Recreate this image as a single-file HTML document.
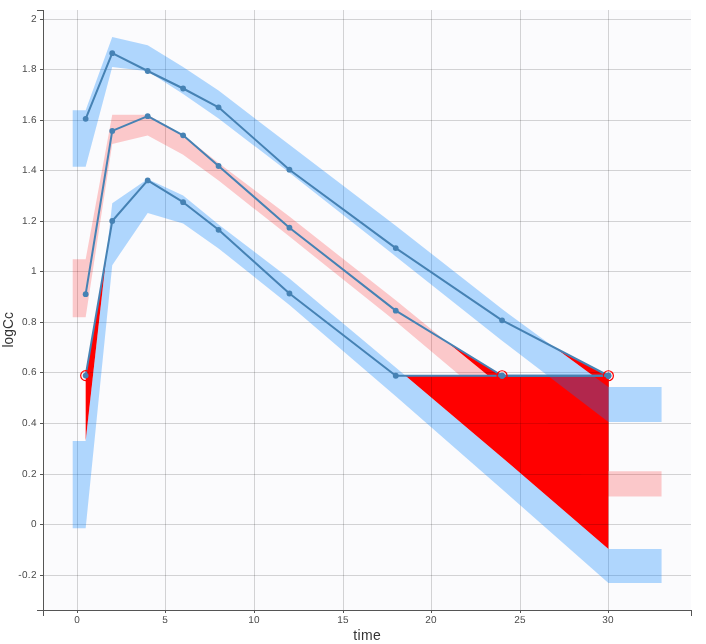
<!DOCTYPE html>
<html><head><meta charset="utf-8"><title>VPC</title>
<style>
html,body{margin:0;padding:0;background:#fff;}
svg{display:block;font-family:"Liberation Sans",Arial,sans-serif;}
</style></head>
<body>
<svg width="706" height="644" viewBox="0 0 706 644">
<rect x="0" y="0" width="706" height="644" fill="#ffffff"/>
<rect x="44" y="10" width="647" height="600" fill="#fbfbfd"/>
<g fill="#ff0000" stroke="none">
<polygon points="554.89,347.84 608.4,375.75 608.4,387.1"/>
<polygon points="446.7,341.84 502.08,375.75 608.4,375.75 608.4,471.2 502.08,387"/>
<polygon points="85.66,375.6 106.58,253.93 85.66,441"/>
<polygon points="405.51,375.75 502.08,375.75 608.4,375.75 608.4,548.9 502.08,457.5"/>
</g>
<g stroke="rgba(0,0,0,0.16)" stroke-width="1" shape-rendering="crispEdges">
<line x1="44" x2="691" y1="575.5" y2="575.5"/>
<line x1="44" x2="691" y1="524.5" y2="524.5"/>
<line x1="44" x2="691" y1="474.5" y2="474.5"/>
<line x1="44" x2="691" y1="423.5" y2="423.5"/>
<line x1="44" x2="691" y1="372.5" y2="372.5"/>
<line x1="44" x2="691" y1="322.5" y2="322.5"/>
<line x1="44" x2="691" y1="271.5" y2="271.5"/>
<line x1="44" x2="691" y1="221.5" y2="221.5"/>
<line x1="44" x2="691" y1="170.5" y2="170.5"/>
<line x1="44" x2="691" y1="120.5" y2="120.5"/>
<line x1="44" x2="691" y1="69.5" y2="69.5"/>
<line x1="44" x2="691" y1="19.5" y2="19.5"/>
<line x1="77.5" x2="77.5" y1="10" y2="610"/>
<line x1="165.5" x2="165.5" y1="10" y2="610"/>
<line x1="254.5" x2="254.5" y1="10" y2="610"/>
<line x1="343.5" x2="343.5" y1="10" y2="610"/>
<line x1="431.5" x2="431.5" y1="10" y2="610"/>
<line x1="520.5" x2="520.5" y1="10" y2="610"/>
<line x1="608.5" x2="608.5" y1="10" y2="610"/>
</g>
<g stroke="none">
<polygon fill="rgba(0,128,255,0.3)" points="72.7,110.2 85.66,110.2 112.24,36.9 147.68,45.2 183.12,67 218.56,90.5 289.44,144.8 395.76,225.7 502.08,309.1 608.4,387.1 661.56,387.1 661.56,421.9 608.4,421.9 502.08,340.7 395.76,256.4 289.44,172.8 218.56,118.4 183.12,94 147.68,71.2 112.24,67 85.66,166.8 72.7,166.8"/>
<polygon fill="rgba(255,0,0,0.2)" points="72.7,259.2 85.66,259.2 112.24,114.8 147.68,114.7 183.12,135 218.56,162.9 289.44,216.6 395.76,300.3 502.08,387 608.4,471.2 661.56,471.2 661.56,496.6 608.4,496.6 502.08,411 395.76,321.6 289.44,236.6 218.56,180.5 183.12,154.8 147.68,135.4 112.24,144 85.66,317.3 72.7,317.3"/>
<polygon fill="rgba(0,128,255,0.3)" points="72.7,441 85.66,441 112.24,203.3 147.68,179 183.12,195.5 218.56,224.5 289.44,278.5 395.76,367.5 502.08,457.5 608.4,548.9 661.56,548.9 661.56,582.9 608.4,582.9 502.08,489.3 395.76,396.3 289.44,305 218.56,248.4 183.12,223.6 147.68,212.9 112.24,265.2 85.66,528.2 72.7,528.2"/>
</g>
<g fill="none" stroke="#4682b4" stroke-width="2" stroke-linejoin="round">
<polyline points="85.66,118.8 112.24,53.2 147.68,71 183.12,88.5 218.56,107.3 289.44,169.7 395.76,248.1 502.08,320.3 608.4,375.75"/>
<polyline points="85.66,294.2 112.24,130.9 147.68,116.2 183.12,135.3 218.56,166 289.44,227.7 395.76,310.65 502.08,375.75 608.4,375.75"/>
<polyline points="85.66,375.6 112.24,221 147.68,180.4 183.12,202.2 218.56,229.8 289.44,293.5 395.76,375.75 502.08,375.75 608.4,375.75"/>
</g>
<g fill="#4682b4" stroke="none">
<circle cx="85.66" cy="118.8" r="2.9"/>
<circle cx="112.24" cy="53.2" r="2.9"/>
<circle cx="147.68" cy="71" r="2.9"/>
<circle cx="183.12" cy="88.5" r="2.9"/>
<circle cx="218.56" cy="107.3" r="2.9"/>
<circle cx="289.44" cy="169.7" r="2.9"/>
<circle cx="395.76" cy="248.1" r="2.9"/>
<circle cx="502.08" cy="320.3" r="2.9"/>
<circle cx="608.4" cy="375.75" r="2.9"/>
<circle cx="85.66" cy="294.2" r="2.9"/>
<circle cx="112.24" cy="130.9" r="2.9"/>
<circle cx="147.68" cy="116.2" r="2.9"/>
<circle cx="183.12" cy="135.3" r="2.9"/>
<circle cx="218.56" cy="166" r="2.9"/>
<circle cx="289.44" cy="227.7" r="2.9"/>
<circle cx="395.76" cy="310.65" r="2.9"/>
<circle cx="502.08" cy="375.75" r="2.9"/>
<circle cx="608.4" cy="375.75" r="2.9"/>
<circle cx="85.66" cy="375.6" r="2.9"/>
<circle cx="112.24" cy="221" r="2.9"/>
<circle cx="147.68" cy="180.4" r="2.9"/>
<circle cx="183.12" cy="202.2" r="2.9"/>
<circle cx="218.56" cy="229.8" r="2.9"/>
<circle cx="289.44" cy="293.5" r="2.9"/>
<circle cx="395.76" cy="375.75" r="2.9"/>
<circle cx="502.08" cy="375.75" r="2.9"/>
<circle cx="608.4" cy="375.75" r="2.9"/>
</g>
<g fill="none" stroke="#ff0000" stroke-width="1.2">
<circle cx="85.66" cy="375.6" r="5"/>
<circle cx="502.08" cy="375.75" r="5"/>
<circle cx="608.4" cy="375.75" r="5"/>
</g>
<g stroke="#555555" stroke-width="1" shape-rendering="crispEdges" fill="none">
<line x1="43.5" x2="43.5" y1="10" y2="616"/>
<line x1="37" x2="691" y1="610.5" y2="610.5"/>
<line x1="37" x2="44" y1="10.5" y2="10.5"/>
<line x1="691.5" x2="691.5" y1="610" y2="616"/>
<line x1="40" x2="43" y1="575.5" y2="575.5"/>
<line x1="40" x2="43" y1="524.5" y2="524.5"/>
<line x1="40" x2="43" y1="474.5" y2="474.5"/>
<line x1="40" x2="43" y1="423.5" y2="423.5"/>
<line x1="40" x2="43" y1="372.5" y2="372.5"/>
<line x1="40" x2="43" y1="322.5" y2="322.5"/>
<line x1="40" x2="43" y1="271.5" y2="271.5"/>
<line x1="40" x2="43" y1="221.5" y2="221.5"/>
<line x1="40" x2="43" y1="170.5" y2="170.5"/>
<line x1="40" x2="43" y1="120.5" y2="120.5"/>
<line x1="40" x2="43" y1="69.5" y2="69.5"/>
<line x1="40" x2="43" y1="19.5" y2="19.5"/>
<line x1="77.5" x2="77.5" y1="611" y2="613"/>
<line x1="165.5" x2="165.5" y1="611" y2="613"/>
<line x1="254.5" x2="254.5" y1="611" y2="613"/>
<line x1="343.5" x2="343.5" y1="611" y2="613"/>
<line x1="431.5" x2="431.5" y1="611" y2="613"/>
<line x1="520.5" x2="520.5" y1="611" y2="613"/>
<line x1="608.5" x2="608.5" y1="611" y2="613"/>
</g>
<g font-size="10" fill="#4a4a4a" letter-spacing="0.3" text-rendering="geometricPrecision">
<text x="36.8" y="578.0" text-anchor="end">-0.2</text>
<text x="36.8" y="527.0" text-anchor="end">0</text>
<text x="36.8" y="477.0" text-anchor="end">0.2</text>
<text x="36.8" y="426.0" text-anchor="end">0.4</text>
<text x="36.8" y="375.0" text-anchor="end">0.6</text>
<text x="36.8" y="325.0" text-anchor="end">0.8</text>
<text x="36.8" y="274.0" text-anchor="end">1</text>
<text x="36.8" y="224.0" text-anchor="end">1.2</text>
<text x="36.8" y="173.0" text-anchor="end">1.4</text>
<text x="36.8" y="123.0" text-anchor="end">1.6</text>
<text x="36.8" y="72.0" text-anchor="end">1.8</text>
<text x="36.8" y="22.0" text-anchor="end">2</text>
<text x="77.1" y="623" text-anchor="middle">0</text>
<text x="165.1" y="623" text-anchor="middle">5</text>
<text x="254.1" y="623" text-anchor="middle">10</text>
<text x="343.1" y="623" text-anchor="middle">15</text>
<text x="431.1" y="623" text-anchor="middle">20</text>
<text x="520.1" y="623" text-anchor="middle">25</text>
<text x="608.1" y="623" text-anchor="middle">30</text>
</g>
<text x="367.2" y="639.5" font-size="14" fill="#333333" text-anchor="middle" letter-spacing="0.3">time</text>
<text transform="translate(13,329.8) rotate(-90)" font-size="13.8" fill="#333333" text-anchor="middle">logCc</text>
</svg>
</body></html>
